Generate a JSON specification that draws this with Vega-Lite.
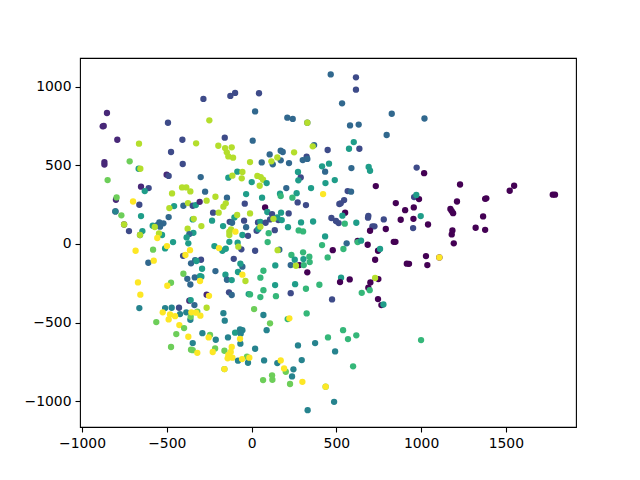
{"$schema":"https://vega.github.io/schema/vega-lite/v6.json","width":496,"height":369,"autosize":"none","padding":{"left":80,"top":58,"right":64,"bottom":53},"background":"white",
"config":{"view":{"stroke":"#000","strokeWidth":1.1},"font":"DejaVu Sans"},
"data":{"values":[
{"x":-853,"y":832,"c":1},{"x":-878,"y":747,"c":1},{"x":-872,"y":749,"c":1},{"x":-792,"y":662,"c":1},{"x":-868,"y":520,"c":1},{"x":-868,"y":504,"c":1},{"x":-849,"y":406,"c":7},{"x":-719,"y":525,"c":7},{"x":-666,"y":478,"c":5},{"x":-656,"y":478,"c":8},{"x":-664,"y":637,"c":8},{"x":-493,"y":770,"c":2},{"x":-284,"y":921,"c":2},{"x":-125,"y":940,"c":2},{"x":-97,"y":959,"c":2},{"x":-249,"y":785,"c":8},{"x":-408,"y":662,"c":2},{"x":-475,"y":584,"c":2},{"x":-406,"y":508,"c":2},{"x":-327,"y":639,"c":8},{"x":-158,"y":675,"c":2},{"x":-196,"y":624,"c":8},{"x":-156,"y":609,"c":8},{"x":-117,"y":614,"c":8},{"x":-146,"y":582,"c":8},{"x":-137,"y":556,"c":8},{"x":-109,"y":548,"c":8},{"x":-501,"y":440,"c":1},{"x":-489,"y":432,"c":2},{"x":-300,"y":425,"c":3},{"x":-84,"y":459,"c":5},{"x":-54,"y":457,"c":8},{"x":-137,"y":421,"c":5},{"x":-113,"y":434,"c":8},{"x":-58,"y":417,"c":8},{"x":-9,"y":520,"c":8},
{"x":467,"y":1077,"c":3},{"x":616,"y":1058,"c":2},{"x":616,"y":980,"c":2},{"x":44,"y":957,"c":2},{"x":534,"y":893,"c":3},{"x":21,"y":842,"c":3},{"x":211,"y":802,"c":3},{"x":243,"y":794,"c":3},{"x":329,"y":770,"c":3},{"x":329,"y":770,"c":8},{"x":827,"y":827,"c":3},{"x":581,"y":753,"c":3},{"x":632,"y":758,"c":3},{"x":797,"y":692,"c":3},{"x":7,"y":656,"c":3},{"x":603,"y":647,"c":5},{"x":575,"y":605,"c":5},{"x":449,"y":597,"c":2},{"x":636,"y":605,"c":2},{"x":369,"y":628,"c":3},{"x":361,"y":620,"c":8},{"x":251,"y":582,"c":8},{"x":107,"y":569,"c":3},{"x":172,"y":592,"c":3},{"x":184,"y":584,"c":3},{"x":172,"y":531,"c":3},{"x":152,"y":550,"c":8},{"x":60,"y":518,"c":3},{"x":125,"y":506,"c":3},{"x":117,"y":525,"c":8},{"x":221,"y":514,"c":3},{"x":325,"y":554,"c":2},{"x":302,"y":533,"c":3},{"x":329,"y":540,"c":3},{"x":416,"y":493,"c":5},{"x":457,"y":510,"c":5},{"x":434,"y":459,"c":3},{"x":589,"y":482,"c":3},{"x":691,"y":489,"c":5},{"x":699,"y":465,"c":5},{"x":974,"y":485,"c":2},{"x":274,"y":457,"c":5},{"x":290,"y":423,"c":2},{"x":276,"y":404,"c":5},{"x":491,"y":406,"c":5},{"x":34,"y":432,"c":8},{"x":54,"y":425,"c":8},{"x":68,"y":408,"c":8},{"x":436,"y":387,"c":5},{"x":89,"y":387,"c":5},{"x":1,"y":393,"c":5},
{"x":1020,"y":797,"c":3},{"x":1018,"y":450,"c":0},{"x":1230,"y":378,"c":0},{"x":1549,"y":370,"c":0},{"x":1523,"y":338,"c":0},{"x":1777,"y":313,"c":0},{"x":1790,"y":313,"c":0},{"x":959,"y":298,"c":2},{"x":988,"y":285,"c":0},{"x":972,"y":311,"c":5},{"x":1385,"y":290,"c":0},{"x":1378,"y":287,"c":0},{"x":1212,"y":270,"c":0},{"x":957,"y":232,"c":0},{"x":1173,"y":222,"c":0},{"x":1189,"y":196,"c":0},{"x":1181,"y":209,"c":0},{"x":1366,"y":175,"c":0},{"x":955,"y":160,"c":0},{"x":998,"y":177,"c":5},{"x":1041,"y":124,"c":0},{"x":953,"y":101,"c":2},{"x":1185,"y":86,"c":0},{"x":1181,"y":61,"c":0},{"x":1322,"y":103,"c":0},{"x":1378,"y":90,"c":0},{"x":1193,"y":4,"c":0},{"x":1029,"y":-77,"c":0},{"x":1108,"y":-85,"c":0},{"x":1108,"y":-85,"c":9},{"x":1037,"y":-134,"c":0},{"x":929,"y":-126,"c":0},
{"x":-652,"y":364,"c":1},{"x":-607,"y":355,"c":2},{"x":-630,"y":336,"c":5},{"x":-410,"y":359,"c":8},{"x":-385,"y":359,"c":8},{"x":-361,"y":334,"c":8},{"x":-274,"y":332,"c":3},{"x":-32,"y":317,"c":5},{"x":-800,"y":281,"c":1},{"x":-796,"y":296,"c":7},{"x":-469,"y":321,"c":8},{"x":-213,"y":300,"c":8},{"x":-145,"y":294,"c":3},{"x":-699,"y":270,"c":9},{"x":-662,"y":249,"c":2},{"x":-457,"y":241,"c":5},{"x":-485,"y":228,"c":8},{"x":-402,"y":243,"c":3},{"x":-375,"y":260,"c":8},{"x":-347,"y":243,"c":2},{"x":-329,"y":247,"c":5},{"x":-306,"y":268,"c":1},{"x":-265,"y":275,"c":8},{"x":-166,"y":237,"c":8},{"x":-152,"y":258,"c":8},{"x":-40,"y":256,"c":2},{"x":-227,"y":199,"c":2},{"x":-194,"y":199,"c":8},{"x":-803,"y":207,"c":1},{"x":-803,"y":207,"c":4},{"x":-768,"y":182,"c":7},{"x":-652,"y":177,"c":5},{"x":-489,"y":171,"c":3},{"x":-347,"y":156,"c":5},{"x":-341,"y":160,"c":8},{"x":-233,"y":148,"c":5},{"x":-101,"y":169,"c":5},{"x":-85,"y":184,"c":8},{"x":-9,"y":194,"c":8},{"x":-752,"y":124,"c":1},{"x":-752,"y":124,"c":8},{"x":-723,"y":82,"c":2},{"x":-644,"y":82,"c":5},{"x":-658,"y":57,"c":3},{"x":-658,"y":57,"c":8},{"x":-583,"y":116,"c":5},{"x":-544,"y":137,"c":3},{"x":-520,"y":131,"c":3},{"x":-540,"y":110,"c":3},{"x":-556,"y":120,"c":3},{"x":-571,"y":108,"c":8},{"x":-528,"y":57,"c":5},{"x":-546,"y":67,"c":8},{"x":-556,"y":38,"c":9},{"x":-377,"y":97,"c":8},{"x":-296,"y":114,"c":8},{"x":-168,"y":114,"c":5},{"x":-129,"y":141,"c":2},{"x":-115,"y":135,"c":3},{"x":-44,"y":148,"c":2},{"x":-32,"y":107,"c":3},{"x":-343,"y":71,"c":5},{"x":-367,"y":63,"c":3},{"x":-383,"y":42,"c":5},{"x":-121,"y":93,"c":8},{"x":-131,"y":78,"c":8},{"x":-131,"y":57,"c":8},{"x":-95,"y":78,"c":9},{"x":-54,"y":57,"c":5},{"x":-21,"y":52,"c":2},{"x":-373,"y":4,"c":5},{"x":-463,"y":12,"c":5},{"x":-131,"y":14,"c":5},{"x":-82,"y":8,"c":5},{"x":-60,"y":-34,"c":2},{"x":-78,"y":-17,"c":8},{"x":-510,"y":-28,"c":5},{"x":-499,"y":-13,"c":9},{"x":-581,"y":-36,"c":7},{"x":-684,"y":-43,"c":9},{"x":-219,"y":-13,"c":5},{"x":-172,"y":-43,"c":5},{"x":-152,"y":-30,"c":5},{"x":-192,"y":-26,"c":9},{"x":-363,"y":-39,"c":9},{"x":-404,"y":-75,"c":2},{"x":-390,"y":-70,"c":9},{"x":-333,"y":-102,"c":3},{"x":-357,"y":-123,"c":3},{"x":-298,"y":-100,"c":2},{"x":-325,"y":-108,"c":5},{"x":-105,"y":-94,"c":2},{"x":-54,"y":-144,"c":3},{"x":-66,"y":-125,"c":5},{"x":-609,"y":-119,"c":3},{"x":-577,"y":-106,"c":9},{"x":-292,"y":-157,"c":5},{"x":-213,"y":-172,"c":3},{"x":-80,"y":-178,"c":5},{"x":-54,"y":-195,"c":9},{"x":-154,"y":-195,"c":5},{"x":-402,"y":-189,"c":7},{"x":-379,"y":-221,"c":3},{"x":-335,"y":-212,"c":3},{"x":-304,"y":-204,"c":5},{"x":-296,"y":-208,"c":5},{"x":-145,"y":-227,"c":3},{"x":-117,"y":-229,"c":5},{"x":-36,"y":-235,"c":8},{"x":-670,"y":-244,"c":9},{"x":-475,"y":-246,"c":7},{"x":-497,"y":-265,"c":9},{"x":-361,"y":-257,"c":3},{"x":-304,"y":-235,"c":9},{"x":-656,"y":-322,"c":9},{"x":-133,"y":-307,"c":2},{"x":-117,"y":-324,"c":3},{"x":-265,"y":-322,"c":1},{"x":-251,"y":-329,"c":9},{"x":-17,"y":-318,"c":5},{"x":-367,"y":-360,"c":1},{"x":-359,"y":-356,"c":5},{"x":-337,"y":-388,"c":3},
{"x":48,"y":370,"c":8},{"x":205,"y":355,"c":3},{"x":351,"y":355,"c":5},{"x":733,"y":368,"c":0},{"x":62,"y":294,"c":5},{"x":168,"y":319,"c":5},{"x":172,"y":304,"c":6},{"x":266,"y":323,"c":5},{"x":241,"y":294,"c":6},{"x":422,"y":317,"c":9},{"x":272,"y":264,"c":2},{"x":321,"y":247,"c":2},{"x":567,"y":336,"c":2},{"x":587,"y":332,"c":3},{"x":546,"y":279,"c":2},{"x":518,"y":254,"c":2},{"x":526,"y":258,"c":2},{"x":851,"y":260,"c":0},{"x":906,"y":215,"c":0},{"x":80,"y":232,"c":0},{"x":93,"y":203,"c":5},{"x":121,"y":190,"c":2},{"x":174,"y":199,"c":5},{"x":219,"y":194,"c":2},{"x":552,"y":199,"c":0},{"x":536,"y":180,"c":5},{"x":689,"y":179,"c":2},{"x":687,"y":167,"c":2},{"x":780,"y":156,"c":2},{"x":880,"y":154,"c":0},{"x":471,"y":165,"c":2},{"x":498,"y":146,"c":2},{"x":514,"y":133,"c":2},{"x":550,"y":129,"c":6},{"x":618,"y":135,"c":5},{"x":38,"y":137,"c":2},{"x":52,"y":141,"c":5},{"x":83,"y":135,"c":2},{"x":109,"y":156,"c":2},{"x":158,"y":152,"c":2},{"x":152,"y":169,"c":5},{"x":178,"y":152,"c":5},{"x":129,"y":160,"c":8},{"x":292,"y":137,"c":5},{"x":363,"y":143,"c":5},{"x":215,"y":107,"c":5},{"x":30,"y":84,"c":2},{"x":40,"y":95,"c":5},{"x":52,"y":110,"c":8},{"x":137,"y":88,"c":2},{"x":278,"y":86,"c":6},{"x":304,"y":80,"c":6},{"x":101,"y":69,"c":6},{"x":434,"y":48,"c":5},{"x":713,"y":112,"c":2},{"x":725,"y":112,"c":2},{"x":699,"y":84,"c":0},{"x":792,"y":95,"c":0},{"x":416,"y":-7,"c":6},{"x":95,"y":12,"c":6},{"x":626,"y":19,"c":0},{"x":626,"y":12,"c":6},{"x":646,"y":21,"c":5},{"x":561,"y":4,"c":3},{"x":685,"y":-5,"c":0},{"x":839,"y":14,"c":0},{"x":849,"y":14,"c":0},{"x":21,"y":-43,"c":2},{"x":164,"y":-36,"c":3},{"x":154,"y":-39,"c":8},{"x":479,"y":-39,"c":0},{"x":542,"y":-32,"c":6},{"x":746,"y":-43,"c":0},{"x":758,"y":-32,"c":5},{"x":304,"y":-53,"c":6},{"x":235,"y":-70,"c":6},{"x":341,"y":-81,"c":6},{"x":306,"y":-96,"c":5},{"x":449,"y":-85,"c":6},{"x":255,"y":-100,"c":5},{"x":729,"y":-100,"c":0},{"x":343,"y":-115,"c":6},{"x":140,"y":-136,"c":5},{"x":282,"y":-134,"c":0},{"x":231,"y":-134,"c":3},{"x":308,"y":-134,"c":6},{"x":262,"y":-138,"c":8},{"x":916,"y":-125,"c":0},{"x":329,"y":-180,"c":0},{"x":70,"y":-170,"c":6},{"x":52,"y":-214,"c":6},{"x":528,"y":-214,"c":5},{"x":522,"y":-242,"c":0},{"x":579,"y":-225,"c":0},{"x":748,"y":-223,"c":0},{"x":729,"y":-216,"c":8},{"x":701,"y":-244,"c":0},{"x":689,"y":-278,"c":0},{"x":697,"y":-293,"c":6},{"x":139,"y":-261,"c":5},{"x":257,"y":-255,"c":5},{"x":400,"y":-259,"c":6},{"x":321,"y":-284,"c":6},{"x":70,"y":-293,"c":6},{"x":231,"y":-312,"c":2},{"x":650,"y":-310,"c":6},{"x":144,"y":-331,"c":6},{"x":52,"y":-337,"c":6},{"x":-9,"y":-320,"c":6},{"x":475,"y":-352,"c":2},{"x":746,"y":-350,"c":0},{"x":766,"y":-388,"c":0},{"x":778,"y":-384,"c":5},
{"x":-662,"y":-407,"c":4},{"x":-510,"y":-407,"c":4},{"x":-471,"y":-405,"c":4},{"x":-428,"y":-405,"c":2},{"x":-265,"y":-405,"c":8},{"x":15,"y":-413,"c":7},{"x":-524,"y":-434,"c":9},{"x":-422,"y":-445,"c":4},{"x":-481,"y":-447,"c":9},{"x":-451,"y":-458,"c":9},{"x":-489,"y":-479,"c":9},{"x":-562,"y":-496,"c":7},{"x":-385,"y":-434,"c":4},{"x":-320,"y":-430,"c":7},{"x":-361,"y":-481,"c":4},{"x":-359,"y":-462,"c":7},{"x":-355,"y":-434,"c":9},{"x":-327,"y":-436,"c":9},{"x":-302,"y":-455,"c":9},{"x":-166,"y":-439,"c":4},{"x":-158,"y":-487,"c":4},{"x":70,"y":-451,"c":4},{"x":109,"y":-504,"c":7},{"x":89,"y":-547,"c":4},{"x":213,"y":-477,"c":6},{"x":223,"y":-472,"c":9},{"x":-426,"y":-515,"c":9},{"x":-398,"y":-534,"c":7},{"x":-444,"y":-572,"c":7},{"x":-373,"y":-589,"c":9},{"x":-290,"y":-566,"c":4},{"x":-245,"y":-578,"c":7},{"x":-253,"y":-593,"c":9},{"x":-211,"y":-608,"c":4},{"x":-139,"y":-593,"c":4},{"x":-97,"y":-563,"c":5},{"x":-68,"y":-542,"c":4},{"x":-54,"y":-547,"c":4},{"x":-64,"y":-570,"c":4},{"x":-66,"y":-633,"c":4},{"x":-68,"y":-602,"c":9},{"x":-347,"y":-629,"c":4},{"x":-475,"y":-654,"c":7},{"x":-357,"y":-671,"c":7},{"x":-347,"y":-674,"c":7},{"x":-320,"y":-691,"c":9},{"x":-215,"y":-663,"c":7},{"x":-229,"y":-686,"c":9},{"x":-160,"y":-678,"c":7},{"x":-117,"y":-654,"c":9},{"x":-123,"y":-686,"c":9},{"x":-137,"y":-705,"c":9},{"x":-141,"y":-726,"c":9},{"x":-113,"y":-722,"c":9},{"x":21,"y":-665,"c":4},{"x":-80,"y":-741,"c":4},{"x":-21,"y":-754,"c":4},{"x":-27,"y":-716,"c":7},{"x":-56,"y":-731,"c":9},{"x":-13,"y":-722,"c":9},{"x":74,"y":-739,"c":4},{"x":152,"y":-756,"c":4},{"x":172,"y":-739,"c":9},{"x":202,"y":-811,"c":7},{"x":192,"y":-790,"c":9},{"x":-160,"y":-794,"c":7},{"x":-160,"y":-794,"c":9},{"x":121,"y":-834,"c":7},{"x":68,"y":-864,"c":7},{"x":123,"y":-862,"c":7},{"x":227,"y":-889,"c":7},
{"x":325,"y":-441,"c":6},{"x":540,"y":-547,"c":6},{"x":451,"y":-593,"c":6},{"x":569,"y":-604,"c":6},{"x":618,"y":-580,"c":6},{"x":1000,"y":-610,"c":6},{"x":375,"y":-629,"c":4},{"x":274,"y":-644,"c":4},{"x":493,"y":-682,"c":4},{"x":296,"y":-737,"c":4},{"x":599,"y":-777,"c":6},{"x":247,"y":-796,"c":4},{"x":239,"y":-841,"c":4},{"x":300,"y":-875,"c":9},{"x":437,"y":-906,"c":7},{"x":437,"y":-906,"c":9},{"x":487,"y":-1002,"c":4},{"x":331,"y":-1055,"c":4}
]},
"mark":{"type":"point","filled":true,"opacity":1,"size":40,"shape":"circle"},
"encoding":{
"x":{"field":"x","type":"quantitative","scale":{"domain":[-1012,1914],"nice":false,"zero":false},"axis":{"title":null,"grid":false,"values":[-1000,-500,0,500,1000,1500],"format":"d","labelFont":"DejaVu Sans","labelFontSize":13.9,"labelColor":"#000","tickColor":"#000","tickSize":5,"tickWidth":1.1,"domain":false,"labelPadding":4,"labelFlush":false,"labelOverlap":false}},
"y":{"field":"y","type":"quantitative","scale":{"domain":[-1162,1181],"nice":false,"zero":false},"axis":{"title":null,"grid":false,"values":[-1000,-500,0,500,1000],"format":"d","labelFont":"DejaVu Sans","labelFontSize":13.9,"labelColor":"#000","tickColor":"#000","tickSize":5,"tickWidth":1.1,"domain":false,"labelPadding":4,"labelOverlap":false}},
"color":{"field":"c","type":"quantitative","scale":{"scheme":"viridis","domain":[0,9]},"legend":null}
}}
